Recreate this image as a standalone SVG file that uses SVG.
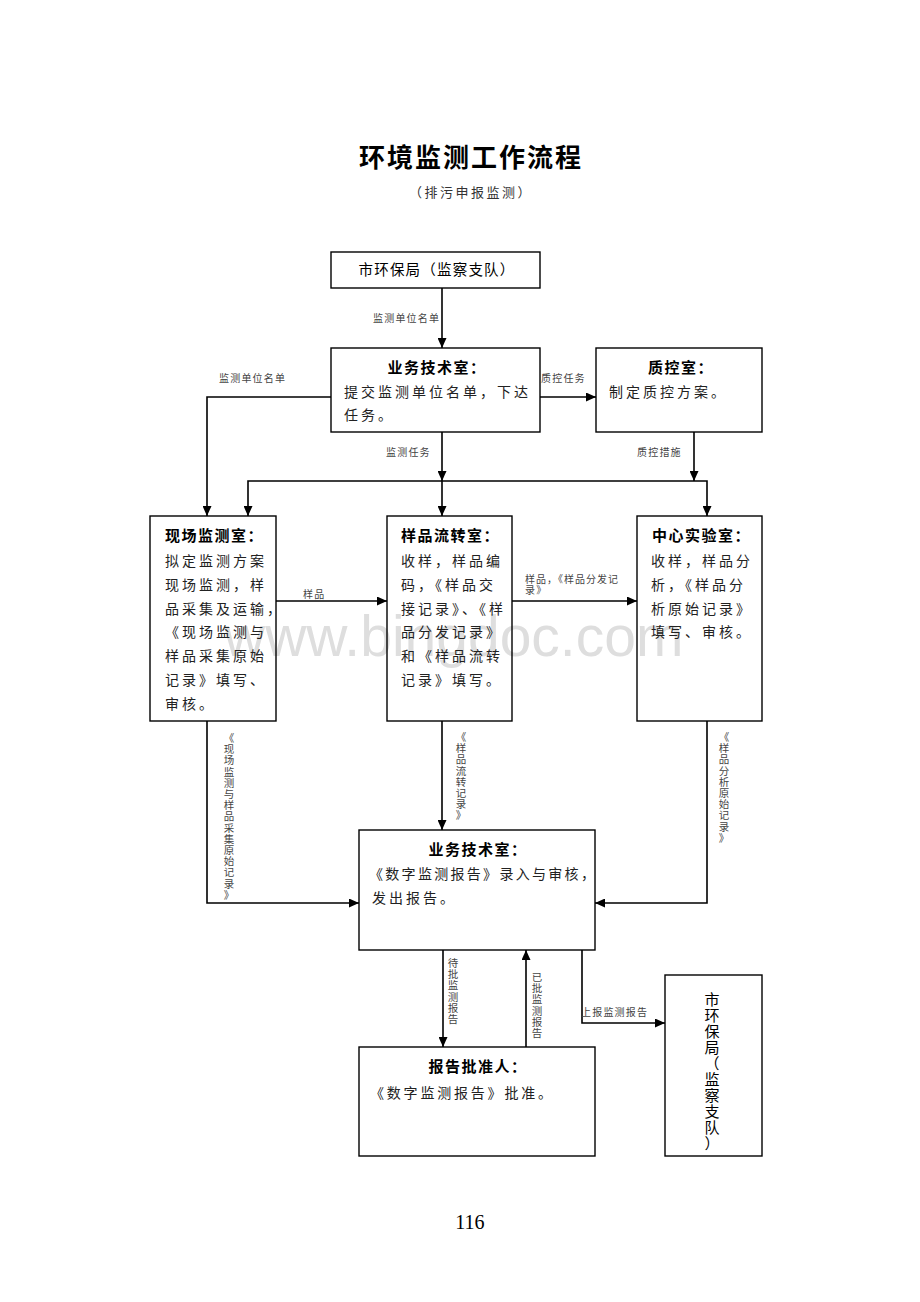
<svg xmlns="http://www.w3.org/2000/svg" width="920" height="1302" viewBox="0 0 920 1302">
<style>
text{font-family:"Noto Sans CJK SC","Noto Sans CJK TC",sans-serif}
.box{fill:none;stroke:#000;stroke-width:1.4}
.ttl{font-size:15px;font-weight:bold;fill:#000;letter-spacing:1.5px}
.body{font-size:14px;fill:#222;letter-spacing:3px}
.lbl{font-size:10px;fill:#444;letter-spacing:1.2px}
.vl{font-size:10.5px;fill:#444;text-anchor:middle}
.conn{fill:none;stroke:#000;stroke-width:1.6;marker-end:url(#ah)}
.wm{font-family:"Liberation Sans",Arial,sans-serif;font-size:57px;fill:#dedede}
</style>
<defs>
<marker id="ah" markerUnits="userSpaceOnUse" markerWidth="10" markerHeight="9" viewBox="0 0 10 10" refX="10" refY="5" orient="auto" preserveAspectRatio="none">
<path d="M0,0 L10,5 L0,10 z" fill="#000"/>
</marker>
</defs>
<rect width="920" height="1302" fill="#fff"/>
<text class="wm" x="224" y="656">www.bingdoc.com</text>

<text x="471" y="167" text-anchor="middle" style="font-size:26px;font-weight:bold;fill:#000;letter-spacing:2px">环境监测工作流程</text>
<text x="471" y="197" text-anchor="middle" style="font-size:13px;fill:#333;letter-spacing:2.5px">（排污申报监测）</text>

<g id="connectors">
<path class="conn" d="M442,288 V348"/>
<path class="conn" d="M540,397 H596"/>
<path class="conn" d="M331,397 H207 V516"/>
<path class="conn" d="M442,432 V481"/>
<path class="conn" d="M442,481 V516"/>
<path class="conn" d="M694,432 V481"/>
<path class="conn" d="M442,481 H248 V516"/>
<path class="conn" d="M442,481 H707 V516"/>
<path class="conn" d="M276,601 H387"/>
<path class="conn" d="M512,601 H637"/>
<path class="conn" d="M207,721 V903 H359"/>
<path class="conn" d="M442,721 V830"/>
<path class="conn" d="M707,721 V903 H595"/>
<path class="conn" d="M443,950 V1047"/>
<path class="conn" d="M526,1047 V950"/>
<path class="conn" d="M582,950 V1023 H665"/>
<text class="lbl" x="373" y="322">监测单位名单</text>
<text class="lbl" x="219" y="382">监测单位名单</text>
<text class="lbl" x="541" y="382">质控任务</text>
<text class="lbl" x="386" y="456">监测任务</text>
<text class="lbl" x="637" y="456">质控措施</text>
<text class="lbl" x="303" y="598">样品</text>
<text class="lbl" x="525" y="583" style="letter-spacing:1px">样品，《样品分发记</text>
<text class="lbl" x="525" y="594">录》</text>
<text class="lbl" x="581" y="1016">上报监测报告</text>
<text class="vl" x="229 229 229 229 229 229 229 229 229 229 229 229 229 229 229" y="742 753.2 764.4 775.6 786.8 798 809.2 820.4 831.6 842.8 854 865.2 876.4 887.6 898.8">《现场监测与样品采集原始记录》</text>
<text class="vl" x="461 461 461 461 461 461 461 461" y="741 752.2 763.4 774.6 785.8 797 808.2 819.4">《样品流转记录》</text>
<text class="vl" x="724 724 724 724 724 724 724 724 724 724" y="741 752.2 763.4 774.6 785.8 797 808.2 819.4 830.6 841.8">《样品分析原始记录》</text>
<text class="vl" x="453 453 453 453 453 453" y="967 978.2 989.4 1000.6 1011.8 1023">待批监测报告</text>
<text class="vl" x="537 537 537 537 537 537" y="981 992.2 1003.4 1014.6 1025.8 1037">已批监测报告</text>
</g>

<g id="node-a">
<rect class="box" x="331" y="252" width="209" height="36"/>
<text x="437" y="275" text-anchor="middle" style="font-size:14.5px;fill:#000;letter-spacing:1.2px">市环保局（监察支队）</text>
</g>
<g id="node-b">
<rect class="box" x="331" y="348" width="209" height="84"/>
<text class="ttl" x="437" y="373" text-anchor="middle">业务技术室：</text>
<text class="body" x="344" y="397">提交监测单位名单，下达</text>
<text class="body" x="344" y="420">任务。</text>
</g>
<g id="node-c">
<rect class="box" x="596" y="348" width="166" height="84"/>
<text class="ttl" x="681" y="373" text-anchor="middle">质控室：</text>
<text class="body" x="609" y="397">制定质控方案。</text>
</g>
<g id="node-d">
<rect class="box" x="150" y="516" width="126" height="205"/>
<text class="ttl" x="165" y="541">现场监测室：</text>
<text class="body" x="165" y="566">拟定监测方案</text>
<text class="body" x="165" y="590">现场监测，样</text>
<text class="body" x="165" y="614">品采集及运输，</text>
<text class="body" x="165" y="637">《现场监测与</text>
<text class="body" x="165" y="661">样品采集原始</text>
<text class="body" x="165" y="685">记录》填写、</text>
<text class="body" x="165" y="709">审核。</text>
</g>
<g id="node-e">
<rect class="box" x="387" y="516" width="125" height="205"/>
<text class="ttl" x="401" y="541">样品流转室：</text>
<text class="body" x="401" y="566">收样，样品编</text>
<text class="body" x="401" y="590">码，《样品交</text>
<text class="body" x="401" y="614">接记录》、《样</text>
<text class="body" x="401" y="637">品分发记录》</text>
<text class="body" x="401" y="661">和《样品流转</text>
<text class="body" x="401" y="685">记录》填写。</text>
</g>
<g id="node-f">
<rect class="box" x="637" y="516" width="125" height="205"/>
<text class="ttl" x="652" y="541">中心实验室：</text>
<text class="body" x="651" y="566">收样，样品分</text>
<text class="body" x="651" y="590">析，《样品分</text>
<text class="body" x="651" y="614">析原始记录》</text>
<text class="body" x="651" y="637">填写、审核。</text>
</g>
<g id="node-g">
<rect class="box" x="359" y="830" width="236" height="120"/>
<text class="ttl" x="478" y="855" text-anchor="middle">业务技术室：</text>
<text class="body" x="369" y="879" style="letter-spacing:2.3px">《数字监测报告》录入与审核，</text>
<text class="body" x="372" y="903">发出报告。</text>
</g>
<g id="node-h">
<rect class="box" x="359" y="1047" width="236" height="109"/>
<text class="ttl" x="478" y="1072" text-anchor="middle">报告批准人：</text>
<text class="body" x="370" y="1098" style="letter-spacing:2.8px">《数字监测报告》批准。</text>
</g>
<g id="node-i">
<rect class="box" x="665" y="975" width="97" height="181"/>
<text x="712 712 712 712 712 712 712 712 712 712" y="1004.5 1020.5 1036.5 1052.5 1068.5 1084.5 1100.5 1116.5 1132.5 1148.5" text-anchor="middle" style="font-size:15px;fill:#000">市环保局（监察支队）</text>
</g>

<text x="470" y="1229" text-anchor="middle" style="font-family:'Liberation Serif','Times New Roman',serif;font-size:20px;fill:#000">116</text>
</svg>
